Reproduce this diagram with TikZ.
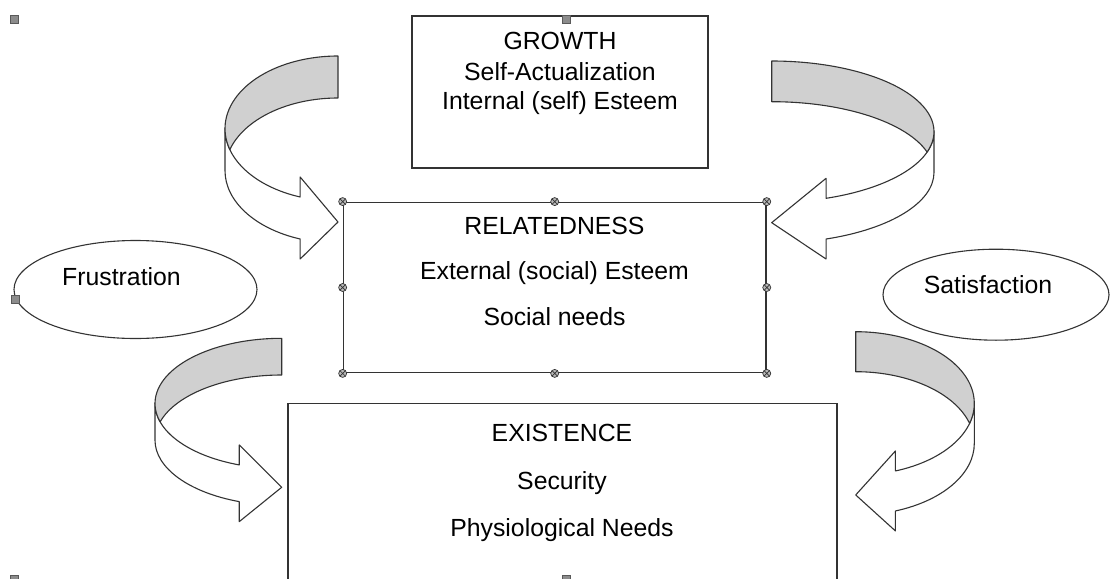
\documentclass[tikz,border=0pt]{standalone}
\usepackage{fontspec}
\setmainfont{Liberation Sans}
\usetikzlibrary{shapes.geometric}
\definecolor{edge}{HTML}{333333}
\definecolor{backside}{HTML}{D0D0D0}
\definecolor{handlegray}{HTML}{8C8C8C}
\tikzset{
  box/.style={draw=edge, line width=1.4pt, fill=white, inner sep=0pt, rectangle},
  bubble/.style={ellipse, draw=edge, line width=1.1pt, fill=white, inner sep=0pt},
  boxtext/.style={font=\fontsize{24.8}{29.6}\selectfont, anchor=base, inner sep=0pt, text=black},
  ribbon front/.style={draw=edge, line width=1.1pt, fill=white, line join=round},
  ribbon back/.style={draw=edge, line width=1.1pt, fill=backside, line join=round},
  selhandle/.style={rectangle, draw=gray!70!black, fill=handlegray, line width=0.4pt,
    minimum size=8, inner sep=0pt},
  grip/.style={circle, draw=edge, fill=gray!55, line width=0.7pt, minimum size=8, inner sep=0pt,
    path picture={\draw[edge, line width=0.7pt]
      (path picture bounding box.north west) -- (path picture bounding box.south east)
      (path picture bounding box.north east) -- (path picture bounding box.south west);}}
}
% Curved ribbon arrow: #1,#2 = top of the flat end, #3 = ribbon thickness,
% #4,#5 = ellipse radii, #6 = 1 (bulges left, points right) or -1 (mirrored)
\newcommand\ribbonarrow[6]{%
  \begin{scope}[shift={(#1,#2)}, xscale=#6]
    \pgfmathsetmacro\rbT{#3}%
    \pgfmathsetmacro\rbX{#4}%
    \pgfmathsetmacro\rbY{#5}%
    \pgfmathsetmacro\rbA{asin(\rbT/(2*\rbY))}%
    \pgfmathsetmacro\rbB{180-acos(0.335)}%
    \pgfmathsetmacro\rbBx{\rbX*cos(\rbB)}%
    \pgfmathsetmacro\rbNt{\rbY+\rbY*sin(\rbB)}%
    \pgfmathsetmacro\rbNb{\rbNt+\rbT}%
    \pgfmathsetmacro\rbTip{(\rbNt+\rbNb)/2+4}%
    % front face of the ribbon with the arrow head
    \draw[ribbon front] (-\rbX,\rbY)
      arc[start angle=180, end angle=\rbB, x radius=\rbX, y radius=\rbY]
      -- (\rbBx,\rbNt-20) -- (0,\rbTip) -- (\rbBx,\rbNb+20) -- (\rbBx,\rbNb)
      arc[start angle=\rbB, end angle=180, x radius=\rbX, y radius=\rbY]
      -- cycle;
    % back face (shaded) of the ribbon
    \draw[ribbon back] (0,0)
      arc[start angle=-90, end angle={-180-\rbA}, x radius=\rbX, y radius=\rbY]
      arc[start angle={180+\rbA}, end angle=270, x radius=\rbX, y radius=\rbY]
      -- cycle;
  \end{scope}}

\begin{document}
\begin{tikzpicture}[x=1pt,y=-1pt]
\useasboundingbox (0,0) rectangle (1110,578);
\clip (0,0) rectangle (1110,578);
\fill[white] (0,0) rectangle (1110,578);

% side ellipses
\node[bubble, minimum width=243, minimum height=98] (frust) at (135.5,289.5) {};
\node[bubble, minimum width=226, minimum height=91] (satis) at (996,294.7) {};
\node[boxtext] (frusttxt) at (121.5,285.3) {Frustration};
\node[boxtext] (satistxt) at (988,293) {Satisfaction};

% GROWTH
\node[box, minimum width=296, minimum height=152] (growth) at (560,92) {};
\node[boxtext] (gr1) at (560,50) {GROWTH};
\node[boxtext] (gr2) at (560,80.5) {Self-Actualization};
\node[boxtext] (gr3) at (560,109.5) {Internal (self) Esteem};

% RELATEDNESS
\node[box, minimum width=422.7, minimum height=170.4] (relate) at (554.7,287.5) {};
\node[boxtext] (re1) at (554.5,234.3) {RELATEDNESS};
\node[boxtext] (re2) at (554.5,279.3) {External (social) Esteem};
\node[boxtext] (re3) at (554.5,325) {Social needs};

% EXISTENCE
\node[box, minimum width=549, minimum height=216] (exist) at (562.5,511.6) {};
\node[boxtext] (ex1) at (562,441) {EXISTENCE};
\node[boxtext] (ex2) at (562,489.3) {Security};
\node[boxtext] (ex3) at (562,536.4) {Physiological Needs};

% curved ribbon arrows
\ribbonarrow{338}{56}{42}{113}{72.6}{1}
\ribbonarrow{771.7}{61}{40.7}{162.3}{70.7}{-1}
\ribbonarrow{281.7}{338.3}{36.7}{126.7}{65.2}{1}
\ribbonarrow{855.7}{331.7}{40}{118.6}{71.7}{-1}

% grips on the selected box
\foreach \a [count=\i] in {north west,north,north east,west,east,south west,south,south east}
  \node[grip] (grip\i) at (relate.\a) {};

% group selection handles
\node[selhandle] (sel1) at (14.5,19) {};
\node[selhandle] (sel2) at (566,19) {};
\node[selhandle] (sel3) at (15,299) {};
\node[selhandle] (sel4) at (14.5,579) {};
\node[selhandle] (sel5) at (566,579) {};
\end{tikzpicture}
\end{document}
